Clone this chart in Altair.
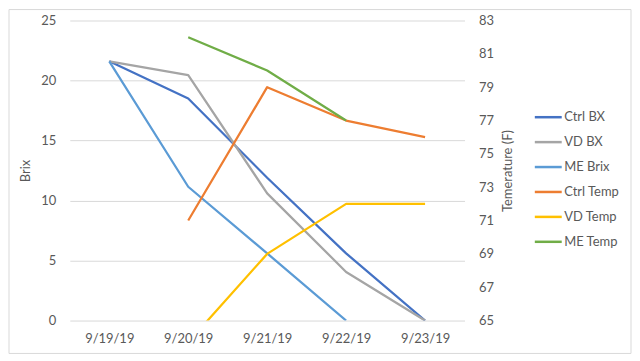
import altair as alt
import pandas as pd

dates = ["9/19/19", "9/20/19", "9/21/19", "9/22/19", "9/23/19"]

ctrl_bx = [21.6, 18.5, 11.9, 5.6, 0.0]
vd_bx = [21.6, 20.45, 10.6, 4.05, 0.0]
me_brix = [21.6, 11.15, 5.6, 0.0, None]

ctrl_temp = [None, 71.0, 79.0, 77.0, 76.0]
vd_temp = [None, 63.7, 69.0, 72.0, 72.0]
me_temp = [None, 82.0, 80.0, 77.0, None]

series_names = ["Ctrl BX", "VD BX", "ME Brix", "Ctrl Temp", "VD Temp", "ME Temp"]
series_colors = ["#4472C4", "#A5A5A5", "#5B9BD5", "#ED7D31", "#FFC000", "#70AD47"]
brix_ticks = [0, 5, 10, 15, 20, 25]
temp_ticks = [65, 67, 69, 71, 73, 75, 77, 79, 81, 83]

rows = []
for name, vals, kind in [
    ("Ctrl BX", ctrl_bx, "brix"), ("VD BX", vd_bx, "brix"), ("ME Brix", me_brix, "brix"),
    ("Ctrl Temp", ctrl_temp, "temp"), ("VD Temp", vd_temp, "temp"), ("ME Temp", me_temp, "temp"),
]:
    for d, v in zip(dates, vals):
        if v is not None:
            rows.append({"date": d, "value": v, "series": name, "kind": kind,
                         "order": series_names.index(name)})
df = pd.DataFrame(rows)

FONT = "Lato"
TXT = "#595959"

x_enc = alt.X("date:N", sort=dates, scale=alt.Scale(type="point", padding=0.5),
              axis=alt.Axis(title=None, domain=False, ticks=False, labelAngle=0,
                            labelPadding=12, labelFontSize=13, labelColor=TXT, labelFont=FONT))
color_enc = alt.Color("series:N", sort=series_names,
                      scale=alt.Scale(domain=series_names, range=series_colors),
                      legend=alt.Legend(title=None, orient="none", legendX=465, legendY=82,
                                        symbolType="stroke", symbolSize=729, symbolStrokeWidth=2.5,
                                        labelFontSize=13, labelColor=TXT, labelFont=FONT,
                                        rowPadding=3, labelOffset=1))

base = alt.Chart(df)

brix = base.transform_filter(alt.datum.kind == "brix").mark_line(
    strokeWidth=2.25, strokeJoin="round", clip=True
).encode(
    x=x_enc,
    y=alt.Y("value:Q", scale=alt.Scale(domain=[0, 25], nice=False),
            axis=alt.Axis(title="Brix", values=brix_ticks, grid=True, gridColor="#D9D9D9",
                          domain=False, ticks=False, labelPadding=14, labelFontSize=13,
                          labelColor=TXT, labelFont=FONT, titleFont=FONT, titleFontSize=13,
                          titleFontWeight="normal", titleColor=TXT, titlePadding=8)),
    color=color_enc,
    order=alt.Order("order:Q"),
)

temp = base.transform_filter(alt.datum.kind == "temp").mark_line(
    strokeWidth=2.25, strokeJoin="round", clip=True
).encode(
    x=x_enc,
    y=alt.Y("value:Q", scale=alt.Scale(domain=[65, 83], nice=False),
            axis=alt.Axis(title="Temerature (F)", orient="right", values=temp_ticks, grid=False,
                          domain=False, ticks=False, labelPadding=14, labelFontSize=13,
                          labelColor=TXT, labelFont=FONT, titleFont=FONT, titleFontSize=13,
                          titleFontWeight="normal", titleColor=TXT, titlePadding=8,
                          titleAngle=270, titleBaseline="top")),
    color=color_enc,
    order=alt.Order("order:Q"),
)

frame = alt.Chart(pd.DataFrame({"a": [0]})).mark_rect(
    fill=None, stroke="#D9D9D9", strokeWidth=1
).encode(x=alt.value(-61), x2=alt.value(563), y=alt.value(-11), y2=alt.value(334))

chart = alt.layer(frame, brix, temp).resolve_scale(y="independent").properties(
    width=396, height=301, padding=0
).configure_view(stroke=None)

chart.save("out.html", embed_options={"renderer": "svg", "actions": False})
